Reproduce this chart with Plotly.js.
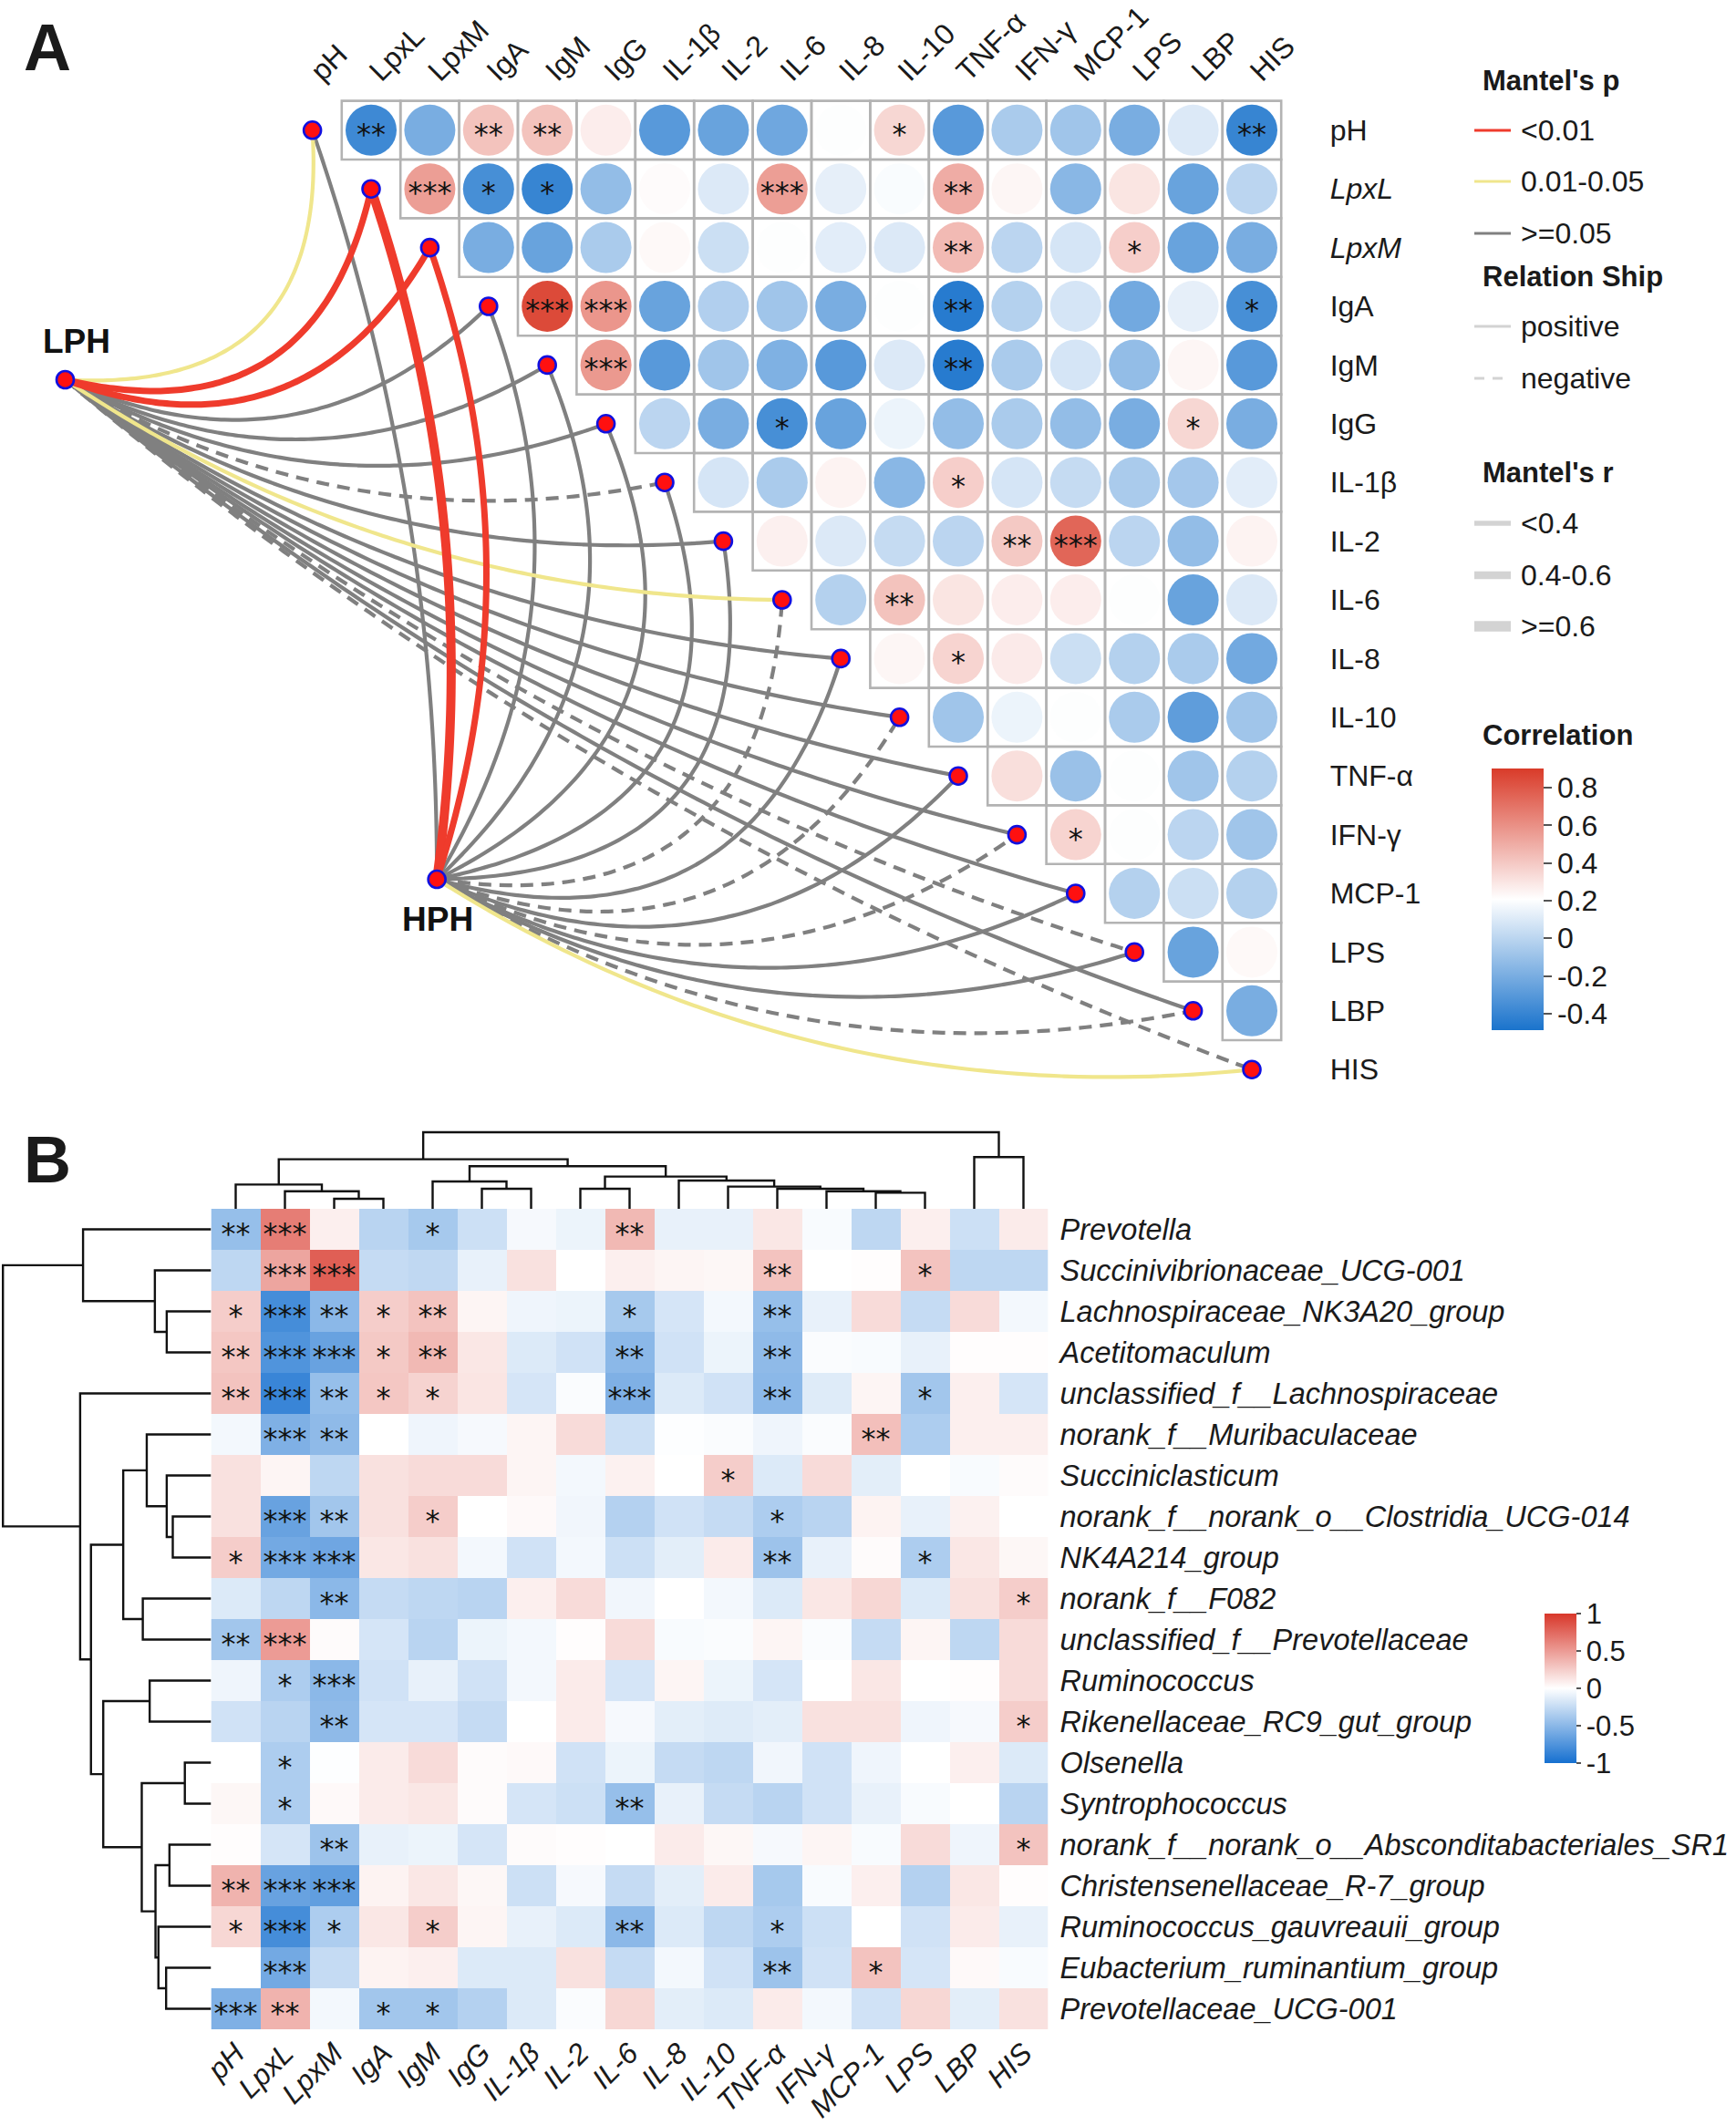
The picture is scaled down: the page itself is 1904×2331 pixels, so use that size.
<!DOCTYPE html>
<html><head><meta charset="utf-8">
<script src="https://cdn.plot.ly/plotly-3.0.1.min.js"></script>
<style>html,body{margin:0;padding:0;background:#fff}</style>
</head><body><div id="chart" style="width:1904px;height:2331px"></div>
<script>
// ---------------- DATA ----------------
const varsA = ['pH','LpxL','LpxM','IgA','IgM','IgG','IL-1β','IL-2','IL-6','IL-8','IL-10','TNF-α','IFN-γ','MCP-1','LPS','LBP','HIS'];
const italicVars = ['LpxL','LpxM'];

// Panel A: row i holds correlations with columns i+1 .. 16
const corrA = [
 [-0.38,-0.20,0.42,0.42,0.27,-0.30,-0.25,-0.23,0.20,0.35,-0.30,-0.05,-0.08,-0.20,0.10,-0.40],
 [0.55,-0.35,-0.40,-0.12,0.22,0.10,0.55,0.13,0.19,0.50,0.24,-0.15,0.30,-0.25,0.00],
 [-0.20,-0.25,-0.05,0.23,0.05,0.20,0.12,0.10,0.45,0.00,0.08,0.38,-0.25,-0.20],
 [0.85,0.58,-0.25,-0.03,-0.08,-0.20,0.20,-0.45,-0.02,0.08,-0.22,0.13,-0.35],
 [0.57,-0.30,-0.08,-0.18,-0.30,0.10,-0.45,-0.05,0.08,-0.12,0.24,-0.30],
 [0.00,-0.20,-0.35,-0.25,0.15,-0.12,-0.05,-0.12,-0.20,0.35,-0.20],
 [0.08,-0.05,0.25,-0.15,0.38,0.08,0.03,-0.05,-0.07,0.12],
 [0.26,0.10,0.03,0.00,0.40,0.75,0.00,-0.12,0.25],
 [-0.02,0.42,0.30,0.27,0.27,0.20,-0.25,0.10],
 [0.24,0.36,0.28,0.05,-0.02,-0.05,-0.22],
 [-0.08,0.15,0.20,-0.05,-0.28,-0.08],
 [0.32,-0.10,0.20,-0.08,-0.02],
 [0.36,0.20,0.00,-0.08],
 [-0.02,0.05,-0.02],
 [-0.25,0.23],
 [-0.20]
];
// [row, col, stars]
const starsA = [
 [0,1,'**'],[0,3,'**'],[0,4,'**'],[0,10,'*'],[0,16,'**'],
 [1,2,'***'],[1,3,'*'],[1,4,'*'],[1,8,'***'],[1,11,'**'],
 [2,11,'**'],[2,14,'*'],
 [3,4,'***'],[3,5,'***'],[3,11,'**'],[3,16,'*'],
 [4,5,'***'],[4,11,'**'],
 [5,8,'*'],[5,15,'*'],
 [6,11,'*'],
 [7,12,'**'],[7,13,'***'],
 [8,10,'**'],
 [9,11,'*'],
 [12,13,'*']
];

// Mantel links (one entry per variable in varsA order)
const lphP    = ['0.01-0.05','<0.01','<0.01','>=0.05','>=0.05','>=0.05','>=0.05','>=0.05','0.01-0.05','>=0.05','>=0.05','>=0.05','>=0.05','>=0.05','>=0.05','>=0.05','>=0.05'];
const lphR    = ['<0.4','0.4-0.6','0.4-0.6','<0.4','<0.4','<0.4','<0.4','<0.4','<0.4','<0.4','<0.4','<0.4','<0.4','<0.4','<0.4','<0.4','<0.4'];
const lphSign = ['positive','positive','positive','positive','positive','positive','negative','positive','positive','positive','positive','positive','positive','positive','negative','positive','negative'];
const hphP    = ['>=0.05','<0.01','<0.01','>=0.05','>=0.05','>=0.05','>=0.05','>=0.05','>=0.05','>=0.05','>=0.05','>=0.05','>=0.05','>=0.05','>=0.05','>=0.05','0.01-0.05'];
const hphR    = ['<0.4','>=0.6','0.4-0.6','<0.4','<0.4','<0.4','<0.4','<0.4','<0.4','<0.4','<0.4','<0.4','<0.4','<0.4','<0.4','<0.4','<0.4'];
const hphSign = ['positive','positive','positive','positive','positive','positive','positive','positive','negative','positive','negative','positive','negative','positive','positive','negative','positive'];

// Panel B
const genera = ['Prevotella','Succinivibrionaceae_UCG-001','Lachnospiraceae_NK3A20_group','Acetitomaculum','unclassified_f__Lachnospiraceae','norank_f__Muribaculaceae','Succiniclasticum','norank_f__norank_o__Clostridia_UCG-014','NK4A214_group','norank_f__F082','unclassified_f__Prevotellaceae','Ruminococcus','Rikenellaceae_RC9_gut_group','Olsenella','Syntrophococcus','norank_f__norank_o__Absconditabacteriales_SR1','Christensenellaceae_R-7_group','Ruminococcus_gauvreauii_group','Eubacterium_ruminantium_group','Prevotellaceae_UCG-001'];
const corrB = [
 [-0.45,0.65,0.08,-0.30,-0.38,-0.22,-0.04,-0.08,0.35,-0.10,-0.10,0.12,-0.03,-0.28,0.08,-0.22,0.10],
 [-0.28,0.45,0.80,-0.25,-0.27,-0.10,0.15,0.00,0.08,0.05,0.04,0.30,0.00,0.01,0.30,-0.28,-0.28],
 [0.25,-0.80,-0.50,0.25,0.30,0.05,-0.07,-0.08,-0.38,-0.18,-0.05,-0.45,-0.10,0.18,-0.25,0.18,-0.05],
 [0.28,-0.75,-0.65,0.27,0.35,0.12,-0.15,-0.20,-0.50,-0.20,-0.08,-0.48,-0.02,-0.03,-0.10,0.01,0.01],
 [0.30,-0.85,-0.45,0.28,0.22,0.13,-0.18,-0.02,-0.55,-0.15,-0.20,-0.50,-0.14,0.05,-0.40,0.08,-0.18],
 [-0.05,-0.55,-0.48,0.00,-0.07,-0.04,0.05,0.18,-0.22,-0.01,-0.02,-0.07,-0.02,0.32,-0.35,0.08,0.08],
 [0.15,0.05,-0.28,0.15,0.18,0.18,0.05,-0.05,0.07,0.00,0.25,-0.15,0.18,-0.12,0.00,-0.03,0.02],
 [0.15,-0.65,-0.40,0.15,0.25,0.00,0.03,-0.06,-0.32,-0.20,-0.25,-0.35,-0.30,0.06,-0.10,0.07,0.00],
 [0.25,-0.60,-0.62,0.12,0.15,-0.05,-0.20,-0.05,-0.22,-0.12,0.10,-0.42,-0.10,0.02,-0.35,0.12,0.04],
 [-0.15,-0.28,-0.50,-0.25,-0.28,-0.30,0.08,0.18,-0.06,0.00,-0.05,-0.15,0.12,0.20,-0.15,0.15,0.25],
 [-0.40,0.50,0.02,-0.18,-0.30,-0.08,-0.05,0.01,0.18,-0.03,-0.02,0.05,-0.02,-0.25,0.05,-0.28,0.18],
 [-0.07,-0.35,-0.50,-0.20,-0.10,-0.20,-0.05,0.10,-0.18,0.05,-0.08,-0.18,0.00,0.12,0.00,0.01,0.18],
 [-0.20,-0.30,-0.48,-0.18,-0.18,-0.25,0.00,0.10,-0.04,-0.12,-0.14,-0.12,0.15,0.15,-0.07,-0.04,0.25],
 [0.00,-0.35,-0.01,0.10,0.18,0.02,0.03,-0.20,-0.08,-0.25,-0.28,-0.06,-0.20,-0.07,0.00,0.08,-0.15],
 [0.04,-0.35,0.03,0.10,0.12,0.02,-0.18,-0.22,-0.45,-0.10,-0.25,-0.30,-0.20,-0.10,-0.03,0.00,-0.30],
 [0.01,-0.18,-0.42,-0.10,-0.08,-0.18,0.02,0.01,0.00,0.10,0.04,-0.04,0.05,-0.03,0.18,-0.07,0.30],
 [0.38,-0.65,-0.68,0.06,0.12,0.04,-0.22,-0.04,-0.25,-0.12,0.10,-0.38,-0.03,0.08,-0.32,0.12,0.01],
 [0.20,-0.80,-0.35,0.12,0.25,0.05,-0.10,-0.15,-0.50,-0.15,-0.28,-0.35,-0.22,0.00,-0.20,0.10,-0.10],
 [0.00,-0.60,-0.25,0.06,0.08,-0.15,-0.15,0.15,-0.25,-0.05,-0.20,-0.42,-0.20,0.30,-0.18,0.03,-0.03],
 [-0.55,0.38,-0.05,-0.40,-0.40,-0.32,-0.15,-0.02,0.20,-0.12,-0.15,0.10,-0.05,-0.20,0.20,-0.12,0.15]
];
const starsB = [
 [0,0,'**'],[0,1,'***'],[0,4,'*'],[0,8,'**'],
 [1,1,'***'],[1,2,'***'],[1,11,'**'],[1,14,'*'],
 [2,0,'*'],[2,1,'***'],[2,2,'**'],[2,3,'*'],[2,4,'**'],[2,8,'*'],[2,11,'**'],
 [3,0,'**'],[3,1,'***'],[3,2,'***'],[3,3,'*'],[3,4,'**'],[3,8,'**'],[3,11,'**'],
 [4,0,'**'],[4,1,'***'],[4,2,'**'],[4,3,'*'],[4,4,'*'],[4,8,'***'],[4,11,'**'],[4,14,'*'],
 [5,1,'***'],[5,2,'**'],[5,13,'**'],
 [6,10,'*'],
 [7,1,'***'],[7,2,'**'],[7,4,'*'],[7,11,'*'],
 [8,0,'*'],[8,1,'***'],[8,2,'***'],[8,11,'**'],[8,14,'*'],
 [9,2,'**'],[9,16,'*'],
 [10,0,'**'],[10,1,'***'],
 [11,1,'*'],[11,2,'***'],
 [12,2,'**'],[12,16,'*'],
 [13,1,'*'],
 [14,1,'*'],[14,8,'**'],
 [15,2,'**'],[15,16,'*'],
 [16,0,'**'],[16,1,'***'],[16,2,'***'],
 [17,0,'*'],[17,1,'***'],[17,2,'*'],[17,4,'*'],[17,8,'**'],[17,11,'*'],
 [18,1,'***'],[18,11,'**'],[18,13,'*'],
 [19,0,'***'],[19,1,'**'],[19,3,'*'],[19,4,'*']
];
// dendrograms (hclust style: negative = leaf -(index+1), positive = merge number)
const colMerges = [[-3,-4,0.131],[-2,1,0.230],[-1,2,0.317],[-14,-15,0.210],[-13,4,0.230],[-12,5,0.262],[-11,6,0.290],[-10,7,0.369],[-8,-9,0.262],[9,8,0.421],[-6,-7,0.262],[-5,11,0.357],[12,10,0.556],[3,13,0.647],[-16,-17,0.675],[14,15,1.0]];
const rowMerges = [[-3,-4,0.213],[-2,1,0.270],[-1,2,0.615],[-8,-9,0.184],[-7,4,0.213],[-6,5,0.309],[-10,-11,0.328],[6,7,0.422],[-12,-13,0.295],[-14,-15,0.126],[-16,-17,0.200],[-19,-20,0.216],[-18,12,0.253],[11,13,0.267],[10,14,0.333],[9,15,0.518],[8,16,0.577],[-5,17,0.629],[3,18,1.0]];

// ---------------- LAYOUT / STYLE ----------------
const W = 1904, H = 2331;
const FONT = 'Liberation Sans, Arial, sans-serif';
const STARFONT = 'DejaVu Sans, sans-serif';
const PX = p => p / W, PY = p => 1 - p / H;

const GA = {x0: 342.6, y0: 142.8, cell: 64.4, xr: [-5, 16.6], yr: [16.9, -0.62]};
const xDomA = [PX(GA.x0 + GA.xr[0]*GA.cell), PX(GA.x0 + GA.xr[1]*GA.cell)];
const yDomA = [PY(GA.y0 + GA.yr[0]*GA.cell), PY(GA.y0 + GA.yr[1]*GA.cell)];
const hubs = {LPH: [-4.21, 4.25], HPH: [2.12, 12.76]};

const GB = {left: 231.5, top: 1326, cw: 54.0, rh: 45.0, dendH: 84, dendW: 228.3};
const xDomB = [PX(GB.left), PX(GB.left + 17*GB.cw)];
const yDomB = [PY(GB.top + 20*GB.rh), PY(GB.top)];

const pColor = {'<0.01':'#ef3b2c','0.01-0.05':'#f0e68c','>=0.05':'#808080'};
const rWidth = {'<0.4':4.2,'0.4-0.6':7,'>=0.6':10};
const scaleA = [[0,'#1a73cc'],[0.5,'#ffffff'],[1,'#d93b29']];
const scaleB = [[0,'#1670d0'],[0.5,'#ffffff'],[1,'#d8372a']];
const TXT = 32, STAR = 32;

const traces = [];

// ---- Panel B heatmap ----
const colIdx = varsA.map((_, i) => i);
const rowIdx = genera.map((_, i) => i);
traces.push({type:'heatmap', x: colIdx, y: rowIdx, z: corrB, coloraxis:'coloraxis2',
  xaxis:'x2', yaxis:'y2', hoverinfo:'skip', xgap:0, ygap:0});
const offB = 7 / GB.rh;
traces.push({type:'scatter', mode:'text', xaxis:'x2', yaxis:'y2', cliponaxis:false, hoverinfo:'skip',
  x: starsB.map(s => s[1]), y: starsB.map(s => s[0] + offB), text: starsB.map(s => s[2]),
  textfont:{family:STARFONT, size:STAR, color:'#111'}, showlegend:false});

// dendrograms
function dendro(merges) {
  const pos = [], hgt = [], p = [], h = [];
  const get = id => id < 0 ? [-id - 1, 0] : [pos[id - 1], hgt[id - 1]];
  merges.forEach(([a, b, hh], i) => {
    const [pa, ha] = get(a), [pb, hb] = get(b);
    p.push(pa, pa, pb, pb, null); h.push(ha, hh, hh, hb, null);
    pos[i] = (pa + pb) / 2; hgt[i] = hh;
  });
  return {p, h};
}
const cd = dendro(colMerges);
traces.push({type:'scatter', mode:'lines', x: cd.p, y: cd.h, xaxis:'x3', yaxis:'y3',
  line:{color:'#111', width:2.4}, hoverinfo:'skip', cliponaxis:false, showlegend:false});
const rd = dendro(rowMerges);
traces.push({type:'scatter', mode:'lines', x: rd.h, y: rd.p, xaxis:'x4', yaxis:'y4',
  line:{color:'#111', width:2.4}, hoverinfo:'skip', cliponaxis:false, showlegend:false});

// ---- Panel A links ----
function curve(S, T) {
  const dx = T[0] - S[0], dy = T[1] - S[1];
  const L = Math.hypot(dx, dy);
  const th = Math.atan2(-dy, dx) * 180 / Math.PI;
  const w = th < 55 ? 62 : 32;
  const k = 0.29 * Math.exp(-Math.pow((th - 55) / w, 2));
  const hgt = 2 * k * L;
  const cx = (S[0] + T[0]) / 2 + (-dy / L) * hgt, cy = (S[1] + T[1]) / 2 + (dx / L) * hgt;
  const xs = [], ys = [];
  for (let i = 0; i <= 60; i++) {
    const t = i / 60, u = 1 - t;
    xs.push(u*u*S[0] + 2*u*t*cx + t*t*T[0]);
    ys.push(u*u*S[1] + 2*u*t*cy + t*t*T[1]);
  }
  return [xs, ys];
}
const links = [];
varsA.forEach((v, k) => {
  links.push({hub:'LPH', k, p: lphP[k], r: lphR[k], s: lphSign[k]});
  links.push({hub:'HPH', k, p: hphP[k], r: hphR[k], s: hphSign[k]});
});
const pOrder = {'>=0.05':0,'0.01-0.05':1,'<0.01':2};
links.sort((a, b) => pOrder[a.p] - pOrder[b.p]);
links.forEach(l => {
  const [xs, ys] = curve(hubs[l.hub], [l.k, l.k]);
  traces.push({type:'scatter', mode:'lines', x: xs, y: ys, xaxis:'x', yaxis:'y', hoverinfo:'skip',
    cliponaxis:false, showlegend:false,
    line:{color: pColor[l.p], width: rWidth[l.r], dash: l.s === 'negative' ? '14px,9px' : 'solid', shape:'spline'}});
});

// nodes
traces.push({type:'scatter', mode:'markers', xaxis:'x', yaxis:'y', hoverinfo:'skip', cliponaxis:false, showlegend:false,
  x: colIdx.concat([hubs.LPH[0], hubs.HPH[0]]), y: colIdx.concat([hubs.LPH[1], hubs.HPH[1]]),
  marker:{size:19, color:'#ff1010', line:{color:'#1010e0', width:2.6}}});

// correlation circles
const cx = [], cy = [], cv = [];
corrA.forEach((row, i) => row.forEach((v, j) => { cx.push(i + 1 + j); cy.push(i); cv.push(v); }));
traces.push({type:'scatter', mode:'markers', xaxis:'x', yaxis:'y', hoverinfo:'skip', showlegend:false,
  x: cx, y: cy, marker:{size:56, color: cv, coloraxis:'coloraxis', line:{width:0}}});
const offA = 7 / GA.cell;
traces.push({type:'scatter', mode:'text', xaxis:'x', yaxis:'y', hoverinfo:'skip', showlegend:false, cliponaxis:false,
  x: starsA.map(s => s[1]), y: starsA.map(s => s[0] + offA), text: starsA.map(s => s[2]),
  textfont:{family:STARFONT, size:STAR, color:'#111'}});

// grid shapes
const shapes = [];
for (let r = 0; r < 16; r++) for (let c = r + 1; c < 17; c++) {
  shapes.push({type:'rect', xref:'x', yref:'y', x0:c-0.5, x1:c+0.5, y0:r-0.5, y1:r+0.5,
    line:{color:'#b3b3b3', width:2.6}, fillcolor:'rgba(255,255,255,0)', layer:'below'});
}
// legend shapes
const legX0 = 1617, legX1 = 1657;
const legLine = (y, color, width, dash) => shapes.push({type:'line', xref:'paper', yref:'paper',
  x0:PX(legX0), x1:PX(legX1), y0:PY(y), y1:PY(y), line:{color, width, dash: dash || 'solid'}});
legLine(143, pColor['<0.01'], 3);
legLine(199, pColor['0.01-0.05'], 3);
legLine(256, pColor['>=0.05'], 3);
legLine(358, '#d3d3d3', 3);
legLine(415, '#d3d3d3', 3, '11px,9px');
legLine(574, '#d3d3d3', 5.5);
legLine(631, '#d3d3d3', 8.5);
legLine(687, '#d3d3d3', 11.5);

const ann = [];
const txt = (x, y, t, size, opts) => ann.push(Object.assign({xref:'paper', yref:'paper', x:PX(x), y:PY(y), text:t,
  showarrow:false, xanchor:'left', yanchor:'middle', font:{family:FONT, size, color:'#1a1a1a'}}, opts || {}));
txt(1624, 89, '<b>Mantel\'s p</b>', 31);
txt(1666, 143, '&lt;0.01', TXT);
txt(1666, 199, '0.01-0.05', TXT);
txt(1666, 256, '&gt;=0.05', TXT);
txt(1624, 303, '<b>Relation Ship</b>', 31);
txt(1666, 358, 'positive', TXT);
txt(1666, 415, 'negative', TXT);
txt(1624, 519, '<b>Mantel\'s r</b>', 31);
txt(1666, 574, '&lt;0.4', TXT);
txt(1666, 631, '0.4-0.6', TXT);
txt(1666, 687, '&gt;=0.6', TXT);
txt(1624, 806, '<b>Correlation</b>', 31);
txt(52, 52, '<b>A</b>', 72, {xanchor:'center'});
txt(52, 1272, '<b>B</b>', 72, {xanchor:'center'});
ann.push({xref:'x', yref:'y', x: hubs.LPH[0] + 0.2, y: hubs.LPH[1] - 0.65, text:'<b>LPH</b>', showarrow:false,
  font:{family:FONT, size:37, color:'#111'}});
ann.push({xref:'x', yref:'y', x: hubs.HPH[0] + 0.02, y: hubs.HPH[1] + 0.68, text:'<b>HPH</b>', showarrow:false,
  font:{family:FONT, size:37, color:'#111'}});

const rowTextA = varsA.map(v => italicVars.includes(v) ? '<i>' + v + '</i>' : v);

const layout = {
  width: W, height: H, margin:{l:0, r:0, t:0, b:0}, paper_bgcolor:'#fff', plot_bgcolor:'rgba(0,0,0,0)',
  showlegend:false, hovermode:false, font:{family:FONT, color:'#1a1a1a'},
  xaxis:{domain:xDomA, range:GA.xr, anchor:'y', side:'top', tickmode:'array', tickvals:colIdx, ticktext:varsA,
    tickangle:-45, tickfont:{size:TXT, family:FONT, color:'#1a1a1a'}, showgrid:false, zeroline:false, showline:false, ticks:'', automargin:false},
  yaxis:{domain:yDomA, range:GA.yr, anchor:'x', side:'right', tickmode:'array', tickvals:colIdx, ticktext:rowTextA,
    tickfont:{size:TXT, family:FONT, color:'#1a1a1a'}, showgrid:false, zeroline:false, showline:false, ticks:'', ticklabelstandoff:46, automargin:false},
  xaxis2:{domain:xDomB, range:[-0.5,16.5], anchor:'y2', side:'bottom', tickmode:'array', tickvals:colIdx, ticktext:varsA,
    tickangle:-45, tickfont:{size:TXT, family:FONT, style:'italic', color:'#1a1a1a'}, showgrid:false, zeroline:false, showline:false, ticks:'', automargin:false},
  yaxis2:{domain:yDomB, range:[19.5,-0.5], anchor:'x2', side:'right', tickmode:'array', tickvals:rowIdx, ticktext:genera,
    tickfont:{size:32.5, family:FONT, style:'italic', color:'#1a1a1a'}, showgrid:false, zeroline:false, showline:false, ticks:'', ticklabelstandoff:12, automargin:false},
  xaxis3:{domain:xDomB, range:[-0.5,16.5], anchor:'y3', visible:false},
  yaxis3:{domain:[PY(GB.top), PY(GB.top - GB.dendH*1.03)], range:[0,1.03], anchor:'x3', visible:false},
  xaxis4:{domain:[0, PX(GB.left)], range:[GB.left/GB.dendW, 0], anchor:'y4', visible:false},
  yaxis4:{domain:yDomB, range:[19.5,-0.5], anchor:'x4', visible:false},
  coloraxis:{cmin:-0.488, cmax:0.902, colorscale:scaleA,
    colorbar:{x:PX(1636), xanchor:'left', xpad:0, y:PY(843), yanchor:'top', ypad:0,
      thickness:57, thicknessmode:'pixels', len:287, lenmode:'pixels', outlinewidth:0,
      tickmode:'array', tickvals:[0.8,0.6,0.4,0.2,0,-0.2,-0.4], ticktext:['0.8','0.6','0.4','0.2','0','-0.2','-0.4'],
      ticks:'outside', ticklen:9, tickwidth:2, tickcolor:'#555', tickfont:{size:TXT, family:FONT, color:'#1a1a1a'}}},
  coloraxis2:{cmin:-1, cmax:1, colorscale:scaleB,
    colorbar:{x:PX(1694), xanchor:'left', xpad:0, y:PY(1770), yanchor:'top', ypad:0,
      thickness:35, thicknessmode:'pixels', len:164, lenmode:'pixels', outlinewidth:0,
      tickmode:'array', tickvals:[1,0.5,0,-0.5,-1], ticktext:['1','0.5','0','-0.5','-1'],
      ticks:'outside', ticklen:5, tickwidth:2, tickcolor:'#555', tickfont:{size:31, family:FONT, color:'#1a1a1a'}}},
  shapes, annotations: ann
};
Plotly.newPlot('chart', traces, layout, {displayModeBar:false, staticPlot:true});
</script></body></html>
